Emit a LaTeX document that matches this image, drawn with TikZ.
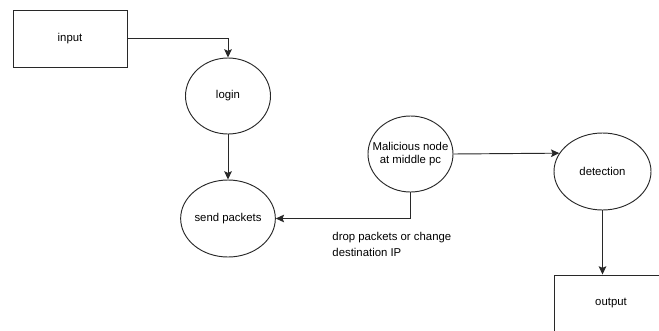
\documentclass[tikz,border=0pt]{standalone}
\usepackage{fontspec}
\setmainfont{Liberation Sans}
\usetikzlibrary{positioning,shapes.geometric,arrows.meta}
\definecolor{LineGray}{RGB}{40,40,40}
\tikzset{
  box/.style={rectangle,draw=LineGray,minimum width=3.42cm,minimum height=1.71cm,inner sep=0pt},
  oval/.style={ellipse,draw=LineGray,inner sep=0pt,align=center},
  arr/.style={draw=LineGray,-{Stealth[length=2.5mm,width=2.3mm,inset=0.5mm]}}
}

\begin{document}
\begin{tikzpicture}[x=0.03cm,y=-0.03cm,line width=0.8pt,font=\fontsize{9.7}{11.5}\selectfont]
	\useasboundingbox (0,0) rectangle (659,331);
	\clip (0,0) rectangle (659,331);
	% nodes
	\node [box] (input) at (70,38.5) {input};
	\node [oval,minimum width=2.55cm,minimum height=2.28cm] (login) at (228,96) {login};
	\node [oval,minimum width=2.73cm,minimum height=2.31cm] (send) at (228,218.5) {send packets};
	\node [oval,inner xsep=-7pt,minimum width=2.55cm,minimum height=2.28cm] (mal) at (410.5,154) {Malicious node\\at middle pc};
	\node [oval,minimum width=2.91cm,minimum height=2.31cm] (det) at (602.5,171.5) {detection};
	\node [box] (output) at (611,303.5) {output};
	\node [anchor=north west,align=left,inner sep=0pt,font=\fontsize{9.7}{13.6}\selectfont] (note) at (332,232) {drop packets or change\\destination IP};
	% connectors
	\draw [arr] (input) -| (login);
	\draw [arr] (login) -- (send);
	\draw [arr] (mal) |- (send);
	\draw [arr] (mal.east) -- (det.157);
	\draw [arr] (det) -- (det |- output.north);
\end{tikzpicture}
\end{document}
